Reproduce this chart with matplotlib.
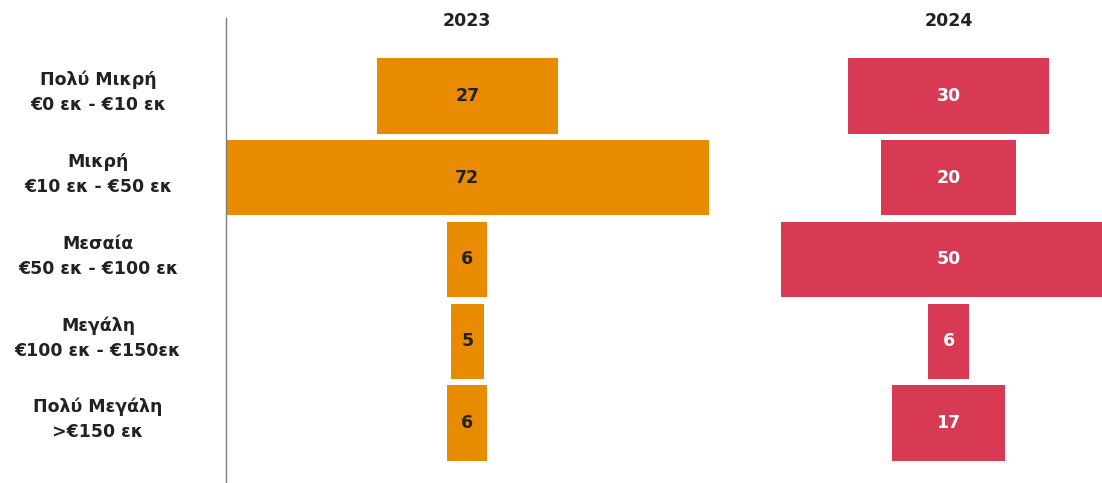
import matplotlib.pyplot as plt

# Data
categories = ['Πολύ Μικρή\n€0 εκ - €10 εκ',
              'Μικρή\n€10 εκ - €50 εκ',
              'Μεσαία\n€50 εκ - €100 εκ',
              'Μεγάλη\n€100 εκ - €150εκ',
              'Πολύ Μεγάλη\n>€150 εκ']
values_2023 = [27, 72, 6, 5, 6]
values_2024 = [30, 20, 50, 6, 17]
years = ['2023', '2024']

c2023 = '#E98B00'
c2024 = '#D93A53'
dark = '#222222'

fig = plt.figure(figsize=(11.02, 4.83), dpi=100)
W, H = 1102, 483
ax = fig.add_axes([226 / W, 0, (W - 226) / W, (H - 18) / H])

center_2023 = 36
center_2024 = 107.8
ypos = range(len(categories))

ax.barh(ypos, values_2023, left=[center_2023 - v / 2 for v in values_2023],
        height=0.92, color=c2023)
ax.barh(ypos, values_2024, left=[center_2024 - v / 2 for v in values_2024],
        height=0.92, color=c2024)

for i, v in enumerate(values_2023):
    ax.text(center_2023, i, str(v), ha='center', va='center',
            fontsize=12.5, fontweight='bold', color=dark)
for i, v in enumerate(values_2024):
    ax.text(center_2024, i, str(v), ha='center', va='center',
            fontsize=12.5, fontweight='bold', color='white')

ax.set_xlim(0, 130.7)
ax.set_ylim(4.734, -0.954)

ax.text(center_2023, -0.92, years[0], ha='center', va='center',
        fontsize=12.5, fontweight='bold', color=dark)
ax.text(center_2024, -0.92, years[1], ha='center', va='center',
        fontsize=12.5, fontweight='bold', color=dark)

for i, lab in enumerate(categories):
    ax.text(-128 / 6.7, i - 0.04, lab, ha='center', va='center', fontsize=12.5,
            fontweight='bold', color=dark, linespacing=1.5, clip_on=False)

for s in ['top', 'right', 'bottom']:
    ax.spines[s].set_visible(False)
ax.spines['left'].set_color('#7f7f7f')
ax.spines['left'].set_linewidth(1)
ax.set_xticks([])
ax.set_yticks([])

fig.savefig('out.png', dpi=100)
